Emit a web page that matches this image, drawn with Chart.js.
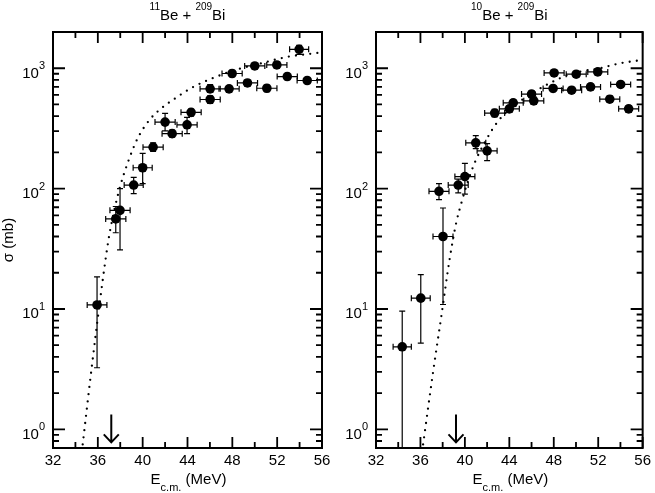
<!DOCTYPE html>
<html>
<head>
<meta charset="utf-8">
<script src="https://cdn.jsdelivr.net/npm/chart.js@4.4.0/dist/chart.umd.min.js"></script>
<style>
  html, body { margin: 0; padding: 0; background: #ffffff; }
  #wrap { position: relative; width: 655px; height: 493px; overflow: hidden; background: #fff; }
  #c1 { position: absolute; left: 0; top: 0; }
  #c2 { position: absolute; left: 330px; top: 0; }
</style>
</head>
<body>
<div id="wrap">
  <canvas id="c1" width="340" height="493"></canvas>
  <canvas id="c2" width="325" height="493"></canvas>
</div>
<script>
// ---------- axis / tick data ----------
const xTickLabels = [32, 36, 40, 44, 48, 52, 56];
const xMinorTicks = [34, 38, 42, 46, 50, 54];
const yDecades = [1, 10, 100, 1000];
const yExponents = ['0', '1', '2', '3'];
const yMinorTicks = [0.7, 0.8, 0.9, 2, 3, 4, 5, 6, 7, 8, 9, 20, 30, 40, 50, 60, 70, 80, 90,
                     200, 300, 400, 500, 600, 700, 800, 900, 2000];

// ---------- 11Be + 209Bi ----------
const e11    = [35.93, 37.6, 37.98, 39.2, 40.0, 40.93, 42.0, 42.63, 43.96, 44.32, 46.02, 46.02, 47.71, 47.98, 49.35, 50.0, 51.08, 51.97, 52.9, 53.96, 54.68];
const s11    = [10.8, 56, 66, 107, 149, 221, 357, 286, 339, 430, 550, 674, 674, 904, 755, 1045, 682, 1065, 853, 1436, 791];
const sLo11  = [3.25, 43, 31, 91, 110, 204, 302, 267, 286, 400, 510, 630, 630, 850, 710, 990, 640, 1005, 805, 1306, 750];
const sHi11  = [18.5, 71, 100, 124, 196, 240, 422, 306, 390, 457, 590, 730, 715, 960, 800, 1100, 725, 1130, 905, 1550, 835];
const dE11   = [0.88, 0.9, 0.9, 0.85, 0.85, 0.9, 0.9, 0.9, 0.9, 0.9, 0.9, 0.9, 0.9, 0.9, 0.9, 0.9, 0.9, 0.9, 0.9, 0.85, 0.9];
const curveE11 = [34.65, 35.45, 36.44, 37.0, 37.5, 38.0, 38.73, 39.53, 40.6, 41.55, 42.89, 44.53, 46.31, 48.4, 50.48, 52.87, 55.54, 56];
const curveS11 = [0.75, 3.25, 17.5, 40, 68, 105, 170, 259, 371, 455, 561, 700, 832, 975, 1093, 1241, 1339, 1360];
const barrier11 = 37.2;

// ---------- 10Be + 209Bi ----------
const e10    = [34.36, 36.03, 37.67, 38.03, 39.4, 40.0, 40.98, 42.0, 42.68, 44.0, 44.35, 46.0, 46.2, 47.94, 48.03, 49.61, 50.02, 51.31, 51.96, 53.04, 54.02, 54.74];
const s10    = [4.85, 12.3, 95, 40, 107, 126, 240, 206, 424, 460, 516, 610, 536, 679, 914, 657, 892, 700, 932, 553, 733, 460];
const sLo10  = [0.5, 5.2, 81, 10.9, 92, 90, 215, 171, 395, 430, 485, 570, 500, 640, 865, 620, 845, 660, 885, 520, 695, 430];
const sHi10  = [9.6, 19.3, 110, 69, 120, 162, 275, 236, 455, 490, 550, 650, 575, 720, 965, 695, 940, 740, 980, 590, 775, 490];
const dE10   = [0.82, 0.85, 0.9, 0.9, 0.9, 0.9, 0.9, 0.9, 0.9, 0.9, 0.9, 0.9, 0.9, 0.9, 0.9, 0.9, 0.9, 0.9, 0.9, 0.9, 0.9, 0.9];
const curveE10 = [36.24, 37.13, 37.88, 38.62, 39.22, 39.67, 40.12, 40.86, 41.91, 42.95, 44.29, 45.79, 47.58, 49.66, 52.05, 53.84, 55.79, 56];
const curveS10 = [0.75, 2.96, 8.7, 25.7, 52, 75, 104, 162, 253, 359, 478, 597, 746, 903, 994, 1093, 1164, 1170];
const barrier10 = 39.2;

const arrowSigma = [1.33, 0.78]; // arrow from / to (mb)

const FONT = '"Liberation Sans", Arial, Helvetica, sans-serif';

function drawRich(ctx, parts, x, y, align) {
  let w = 0;
  const ws = parts.map(p => { ctx.font = p[1] + 'px ' + FONT; const m = ctx.measureText(p[0]).width; w += m; return m; });
  let cx = align === 'center' ? x - w / 2 : (align === 'right' ? x - w : x);
  ctx.textAlign = 'left';
  ctx.textBaseline = 'alphabetic';
  parts.forEach((p, i) => {
    ctx.font = p[1] + 'px ' + FONT;
    ctx.fillText(p[0], cx, y + p[2]);
    cx += ws[i];
  });
}

function makePanel(id, cfg) {
  const deco = {
    id: 'deco',
    beforeDatasetsDraw(chart) {
      const ctx = chart.ctx, xs = chart.scales.x, ys = chart.scales.y, ca = chart.chartArea;
      ctx.save();
      ctx.beginPath();
      ctx.rect(ca.left, ca.top, ca.right - ca.left, ca.bottom - ca.top);
      ctx.clip();
      ctx.strokeStyle = '#000';
      ctx.lineWidth = 1.2;
      const cap = 3;
      for (let i = 0; i < cfg.e.length; i++) {
        const px = xs.getPixelForValue(cfg.e[i]);
        const py = ys.getPixelForValue(cfg.s[i]);
        const x1 = xs.getPixelForValue(cfg.e[i] - cfg.dE[i]);
        const x2 = xs.getPixelForValue(cfg.e[i] + cfg.dE[i]);
        const yl = ys.getPixelForValue(cfg.lo[i]);
        const yh = ys.getPixelForValue(cfg.hi[i]);
        ctx.beginPath();
        ctx.moveTo(x1, py); ctx.lineTo(x2, py);
        ctx.moveTo(x1, py - cap); ctx.lineTo(x1, py + cap);
        ctx.moveTo(x2, py - cap); ctx.lineTo(x2, py + cap);
        ctx.moveTo(px, yh); ctx.lineTo(px, yl);
        ctx.moveTo(px - cap, yh); ctx.lineTo(px + cap, yh);
        ctx.moveTo(px - cap, yl); ctx.lineTo(px + cap, yl);
        ctx.stroke();
      }
      ctx.restore();
    },
    afterDraw(chart) {
      const ctx = chart.ctx, xs = chart.scales.x, ys = chart.scales.y, ca = chart.chartArea;
      ctx.save();
      ctx.fillStyle = '#000';
      ctx.strokeStyle = '#000';
      // ticks (inward on all sides)
      ctx.lineWidth = 1.8;
      ctx.beginPath();
      xTickLabels.forEach(v => { const p = xs.getPixelForValue(v);
        ctx.moveTo(p, ca.bottom); ctx.lineTo(p, ca.bottom - 11);
        ctx.moveTo(p, ca.top); ctx.lineTo(p, ca.top + 11); });
      xMinorTicks.forEach(v => { const p = xs.getPixelForValue(v);
        ctx.moveTo(p, ca.bottom); ctx.lineTo(p, ca.bottom - 6);
        ctx.moveTo(p, ca.top); ctx.lineTo(p, ca.top + 6); });
      yDecades.forEach(v => { const p = ys.getPixelForValue(v);
        ctx.moveTo(ca.left, p); ctx.lineTo(ca.left + 12, p);
        ctx.moveTo(ca.right, p); ctx.lineTo(ca.right - 12, p); });
      yMinorTicks.forEach(v => { const p = ys.getPixelForValue(v);
        if (p < ca.top + 0.5 || p > ca.bottom - 0.5) return;
        ctx.moveTo(ca.left, p); ctx.lineTo(ca.left + 6, p);
        ctx.moveTo(ca.right, p); ctx.lineTo(ca.right - 6, p); });
      ctx.stroke();
      // frame
      ctx.lineWidth = 2;
      ctx.strokeRect(ca.left, ca.top, ca.right - ca.left, ca.bottom - ca.top);
      // y tick labels
      yDecades.forEach((v, i) => {
        const p = ys.getPixelForValue(v);
        drawRich(ctx, [['10', 15, 0], [yExponents[i], 11, -8.5]], ca.left - 8, p + 9.5, 'right');
      });
      // barrier arrow
      const ax = xs.getPixelForValue(cfg.barrier);
      const ay1 = ys.getPixelForValue(arrowSigma[0]);
      const ay2 = ys.getPixelForValue(arrowSigma[1]);
      ctx.lineWidth = 2;
      ctx.beginPath();
      ctx.moveTo(ax, ay1); ctx.lineTo(ax, ay2);
      ctx.moveTo(ax - 7.5, ay2 - 8); ctx.lineTo(ax, ay2); ctx.lineTo(ax + 7.5, ay2 - 8);
      ctx.stroke();
      // title
      const cx = (ca.left + ca.right) / 2;
      drawRich(ctx, [[cfg.titleMass, 10, -10.5], ['Be + ', 15, 0], ['209', 10, -10.5], ['Bi', 15, 0]], cx, 20, 'center');
      // x title
      drawRich(ctx, [['E', 15, 0], ['c.m.', 11, 7], [' (MeV)', 15, 0]], cx + 1, 484, 'center');
      // y title
      if (cfg.yTitle) {
        ctx.translate(13, (ca.top + ca.bottom) / 2);
        ctx.rotate(-Math.PI / 2);
        ctx.font = '15px ' + FONT;
        ctx.textAlign = 'center';
        ctx.textBaseline = 'alphabetic';
        ctx.fillText('σ (mb)', 0, 0);
      }
      ctx.restore();
    }
  };

  return new Chart(document.getElementById(id), {
    type: 'scatter',
    data: {
      datasets: [
        {
          type: 'line',
          data: cfg.curveE.map((x, i) => ({ x: x, y: cfg.curveS[i] })),
          borderColor: '#000',
          borderWidth: 2.3,
          borderDash: [0, 7.2],
          borderCapStyle: 'round',
          pointRadius: 0,
          fill: false,
          cubicInterpolationMode: 'monotone',
          order: 2
        },
        {
          type: 'scatter',
          data: cfg.e.map((x, i) => ({ x: x, y: cfg.s[i] })),
          backgroundColor: '#000',
          borderColor: '#000',
          borderWidth: 0,
          pointRadius: 4.8,
          order: 1
        }
      ]
    },
    options: {
      responsive: false,
      animation: false,
      events: [],
      layout: { padding: { left: 0, right: cfg.padRight, top: 32, bottom: 0 } },
      plugins: { legend: { display: false }, tooltip: { enabled: false }, title: { display: false } },
      scales: {
        x: {
          type: 'linear', min: 32, max: 56,
          grid: { display: false, drawTicks: false },
          border: { display: false },
          ticks: { stepSize: 4, color: '#000', font: { family: FONT, size: 15 }, padding: 4, maxRotation: 0 },
          afterFit(s) { s.height = 45; }
        },
        y: {
          type: 'logarithmic', min: 0.7, max: 2000,
          grid: { display: false, drawTicks: false },
          border: { display: false },
          ticks: { display: false },
          afterFit(s) { s.width = cfg.yWidth; }
        }
      }
    },
    plugins: [deco]
  });
}

makePanel('c1', { e: e11, s: s11, lo: sLo11, hi: sHi11, dE: dE11, curveE: curveE11, curveS: curveS11,
  barrier: barrier11, titleMass: '11', yTitle: true, yWidth: 53, padRight: 18 });
makePanel('c2', { e: e10, s: s10, lo: sLo10, hi: sHi10, dE: dE10, curveE: curveE10, curveS: curveS10,
  barrier: barrier10, titleMass: '10', yTitle: false, yWidth: 46, padRight: 11 });
</script>
</body>
</html>
